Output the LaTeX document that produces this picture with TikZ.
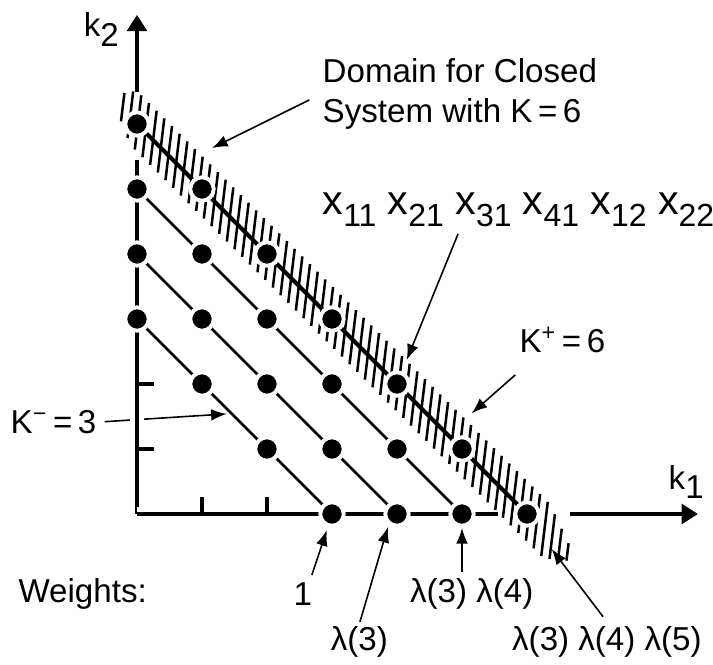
\documentclass[tikz,border=0pt]{standalone}
\usepackage{fontspec}
\setmainfont{Liberation Sans}
\usepackage{tikz}
\usetikzlibrary{arrows.meta}
\tikzset{
  lead/.style={-{Latex[length=2.4mm,width=1.8mm]},line width=.7pt},
  axisline/.style={line width=2pt,preaction={draw=white,line width=6pt}},
  axistip/.style={-{Triangle[length=2.5mm,width=3mm]}},
  lattdot/.style={circle,fill=black,draw=white,line width=1.7pt,inner sep=0pt,minimum size=3.6mm},
  lbl/.style={font=\fontsize{14.5}{17.5}\selectfont,inner sep=0pt},
  xlbl/.style={font=\fontsize{18}{21}\selectfont,inner sep=0pt},
}
\newcommand{\xsub}[1]{x\raisebox{-.55ex}{\fontsize{14}{14}\selectfont#1}}
\newcommand{\hatchband}{%
  \foreach \t in {-0.22,-0.102,...,6.64}{
    \pgfmathsetmacro{\h}{min(0.42,0.22+(\t+0.22)*1.2,0.12+(6.64-\t)*0.9)}
    \draw[line width=1.1pt] ({\t-0.12*\h},{6.04-\t-0.993*\h}) -- ({\t+0.12*\h},{6.04-\t+0.993*\h});
  }
}
\begin{document}
\begin{tikzpicture}
\useasboundingbox (-2.108,-2.308) rectangle (8.862,7.908);
\coordinate (o) at (0,0);
% lattice points k1+k2 = K
\foreach \s in {3,...,6}
  \foreach \i in {0,...,\s}
    \coordinate (p-\i-\s) at (\i,\s-\i);
% K^- leader goes under the axis
\node[lbl,anchor=west] (kminus) at (-1.95,1.42) {K\textsuperscript{−}\,=\,3};
\coordinate (kminus-tip) at (1.38,1.54);
\draw[lead] ([xshift=1.2mm]kminus.east) -- (kminus-tip);
\foreach \s in {3,4,5}
  \draw[line width=1.1pt] (p-0-\s) -- (p-\s-\s);
% axes, cut where the band crosses
\draw[axisline] (o) -- (0,5.45);
\draw[axisline,axistip] (0,6.5) -- (0,7.68);
\draw[axisline] (o) -- (5.55,0);
\draw[axisline,axistip] (6.66,0) -- (8.63,0);
\foreach \u in {1,2}{
  \draw[line width=1.4pt] (0,\u) -- (0.26,\u);
  \draw[line width=1.4pt] (\u,0) -- (\u,0.26);
}
\node[lbl] (k2) at (-0.55,7.45) {k\raisebox{-.55ex}{2}};
\node[lbl] (k1) at (8.45,0.49) {k\raisebox{-.55ex}{1}};
% closed system K = 6
\hatchband
\draw[line width=1.8pt] (p-0-6) -- (p-6-6);
\foreach \s in {3,...,6}
  \foreach \i in {0,...,\s}
    \node[lattdot] (d-\i-\s) at (p-\i-\s) {};
% labels and leaders
\node[lbl,anchor=west,align=left] (domain) at (2.85,6.47) {Domain for Closed\\System with K\,=\,6};
\coordinate (domain-tip) at (1.154,5.63);
\draw[lead] (2.65,6.37) -- (domain-tip);
\node[xlbl,anchor=west] (states) at (2.85,4.68) {\xsub{11} \xsub{21} \xsub{31} \xsub{41} \xsub{12} \xsub{22}};
\coordinate (states-tip) at (4.15,2.37);
\draw[lead] (4.94,4.31) -- (states-tip);
\node[lbl,anchor=west] (kplus) at (5.88,2.68) {K\textsuperscript{+}\,=\,6};
\coordinate (kplus-tip) at (5.15,1.55);
\draw[lead] (5.82,2.14) -- (kplus-tip);
% weights
\node[lbl,anchor=west] (weights) at (-1.83,-1.23) {Weights:};
\node[lbl] (w1) at (2.55,-1.23) {1};
\node[lbl] (w2) at (3.42,-1.97) {λ(3)};
\node[lbl] (w3) at (5.15,-1.23) {λ(3) λ(4)};
\node[lbl] (w4) at (7.23,-1.97) {λ(3) λ(4) λ(5)};
\coordinate (w1-tip) at (2.92,-0.25);
\coordinate (w2-tip) at (3.86,-0.2);
\coordinate (w3-tip) at (5.0,-0.215);
\coordinate (w4-tip) at (6.38,-0.54);
\draw[lead] (2.69,-0.94) -- (w1-tip);
\draw[lead] (3.43,-1.66) -- (w2-tip);
\draw[lead] (5.0,-0.89) -- (w3-tip);
\draw[lead] (7.17,-1.58) -- (w4-tip);
\end{tikzpicture}
\end{document}
